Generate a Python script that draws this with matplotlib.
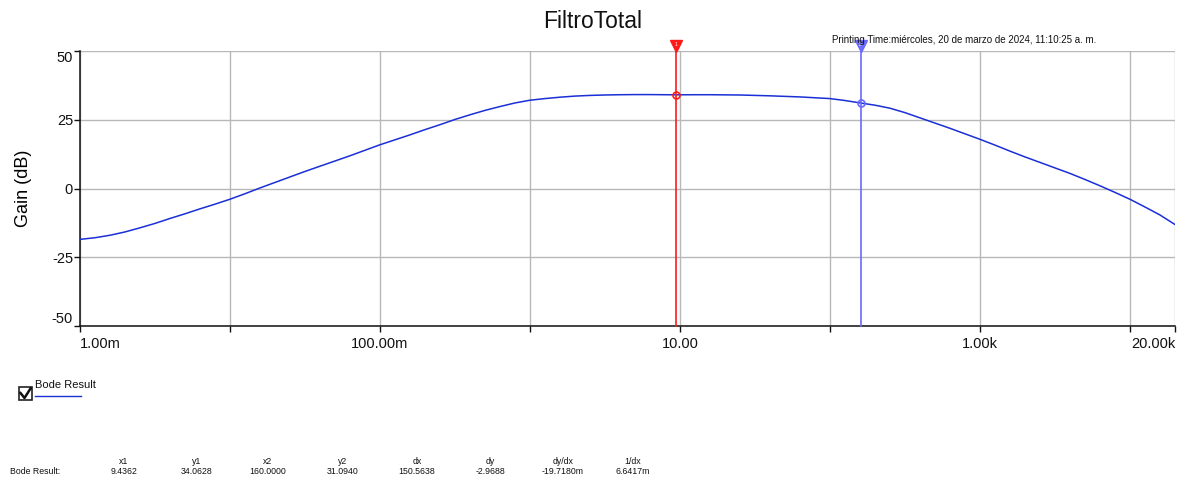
import matplotlib
matplotlib.use("Agg")
import matplotlib.pyplot as plt
from matplotlib.patches import Rectangle
from matplotlib.lines import Line2D

plt.rcParams['font.family'] = ['Liberation Sans', 'DejaVu Sans']

# Bode magnitude of the full filter (frequency in Hz, gain in dB)
freq_hz = [
    1.000e-3, 1.259e-3, 1.585e-3, 1.995e-3, 2.512e-3, 3.162e-3, 3.981e-3, 5.012e-3, 6.310e-3, 7.943e-3,
    1.000e-2, 1.259e-2, 1.585e-2, 1.995e-2, 2.512e-2, 3.162e-2, 3.981e-2, 5.012e-2, 6.310e-2, 7.943e-2,
    0.1000, 0.1259, 0.1585, 0.1995, 0.2512, 0.3162, 0.3981, 0.5012, 0.6310, 0.7943,
    1.000, 1.259, 1.585, 1.995, 2.512, 3.162, 3.981, 5.012, 6.310, 7.943,
    9.4362, 12.59, 15.85, 19.95, 25.12, 31.62, 39.81, 50.12, 63.10, 79.43,
    100.0, 125.9, 160.0, 199.5, 251.2, 316.2, 398.1, 501.2, 631.0, 794.3,
    1000.0, 1259.0, 1585.0, 1995.0, 2512.0, 3162.0, 3981.0, 5012.0, 6310.0, 7943.0,
    10000.0, 12590.0, 15850.0, 20000.0]
gain_db = [
    -18.5, -17.9, -17.0, -15.8, -14.3, -12.7, -10.9, -9.2, -7.4, -5.7,
    -3.9, -1.9, 0.2, 2.2, 4.2, 6.2, 8.1, 10.0, 11.9, 13.9,
    15.9, 17.7, 19.5, 21.4, 23.2, 25.1, 26.8, 28.4, 29.8, 31.1,
    32.1, 32.7, 33.2, 33.6, 33.85, 34.0, 34.1, 34.15, 34.15, 34.1,
    34.0628, 34.1, 34.1, 34.05, 34.0, 33.85, 33.7, 33.5, 33.3, 33.0,
    32.7, 32.0, 31.0940, 30.3, 29.2, 27.6, 25.7, 23.8, 21.9, 19.9,
    17.9, 15.8, 13.6, 11.5, 9.5, 7.5, 5.5, 3.3, 1.0, -1.4,
    -3.9, -6.7, -9.6, -13.1]

# Cursor readouts
cursor_x = [9.4362, 160.0]
cursor_y = [34.0628, 31.0940]
cursor_colors = ['#ff1a1a', '#6a6aff']
cursor_ids = ['1', '2']

x_tick_vals = [1e-3, 1e-2, 1e-1, 1, 10, 100, 1e3, 1e4, 2e4]
x_tick_text = ['1.00m', '', '100.00m', '', '10.00', '', '1.00k', '', '20.00k']
y_tick_vals = [-50, -25, 0, 25, 50]

table_heads = ['x1', 'y1', 'x2', 'y2', 'dx', 'dy', 'dy/dx', '1/dx']
table_vals = ['9.4362', '34.0628', '160.0000', '31.0940', '150.5638',
              '-2.9688', '-19.7180m', '6.6417m']

W, H = 1181, 479
fig = plt.figure(figsize=(W / 100, H / 100), dpi=100)
ax = fig.add_axes([80 / W, 1 - 326 / H, (1175 - 80) / W, (326 - 51) / H])

ax.set_xscale('log')
ax.set_xlim(1e-3, 2e4)
ax.set_ylim(-50, 50)
ax.minorticks_off()

ax.set_xticks(x_tick_vals)
ax.set_xticklabels(x_tick_text)
ax.set_yticks(y_tick_vals)
ax.set_yticklabels([str(v) for v in y_tick_vals])

ax.grid(True, color='#b8b8b8', linewidth=1.0)
ax.set_axisbelow(True)
for side in ('top', 'right'):
    ax.spines[side].set_visible(False)
for side in ('left', 'bottom'):
    ax.spines[side].set_color('#111111')
    ax.spines[side].set_linewidth(1.1)

ax.tick_params(axis='both', direction='out', length=4, width=1, colors='#111111',
               labelsize=10.5, pad=1)
ax.tick_params(axis='x', pad=4)

xl = ax.get_xticklabels()
xl[0].set_horizontalalignment('left')
xl[-1].set_horizontalalignment('right')
yl = ax.get_yticklabels()
yl[0].set_verticalalignment('bottom')
yl[-1].set_verticalalignment('top')

ax.set_ylabel('Gain (dB)', fontsize=13, labelpad=14)

ax.plot(freq_hz, gain_db, color='#1a2fd6', linewidth=1.1, zorder=3)

for cx, cy, col, cid in zip(cursor_x, cursor_y, cursor_colors, cursor_ids):
    ax.plot([cx, cx], [-50, 51.6], color=col, linewidth=1.2, clip_on=False, zorder=4)
    ax.plot([cx], [cy], marker='o', markersize=5, markerfacecolor='none',
            markeredgecolor=col, markeredgewidth=1.2, zorder=5)
    ax.plot([cx], [51.7], marker='v', markersize=8, color=col, clip_on=False, zorder=6)
    ax.text(cx, 52.3, cid, color='white', fontsize=3.5, ha='center', va='center',
            zorder=7, clip_on=False)

# Page overlay in pixel coordinates for title, notes, legend and readout table
ov = fig.add_axes([0, 0, 1, 1], facecolor='none')
ov.set_xlim(0, W)
ov.set_ylim(H, 0)
ov.axis('off')

ov.text(593, 21, 'FiltroTotal', fontsize=16.5, ha='center', va='center', color='#111111')
ov.text(832, 40, 'Printing Time:miércoles, 20 de marzo de 2024, 11:10:25 a. m.',
        fontsize=7, ha='left', va='center', color='#111111')

# Legend entry with a ticked checkbox
ov.add_patch(Rectangle((18.5, 386.5), 13.5, 13.5, fill=False, edgecolor='#222222', linewidth=1.2))
ov.add_line(Line2D([20.5, 24.5, 30.5], [393, 398, 388.5], color='#111111', linewidth=1.8))
ov.text(35, 385, 'Bode Result', fontsize=8, ha='left', va='center', color='#111111')
ov.add_line(Line2D([35, 81], [395.5, 395.5], color='#1a2fd6', linewidth=1.0))

# Cursor readout table
col_x = [124, 197, 268, 343, 417, 490, 563, 633]
ov.text(10, 472, 'Bode Result:', fontsize=6.3, ha='left', va='center', color='#111111')
for cxp, head, val in zip(col_x, table_heads, table_vals):
    ov.text(cxp, 461, head, fontsize=6.3, ha='center', va='center', color='#111111')
    ov.text(cxp, 472, val, fontsize=6.3, ha='center', va='center', color='#111111')

fig.savefig('out.png', dpi=100)
